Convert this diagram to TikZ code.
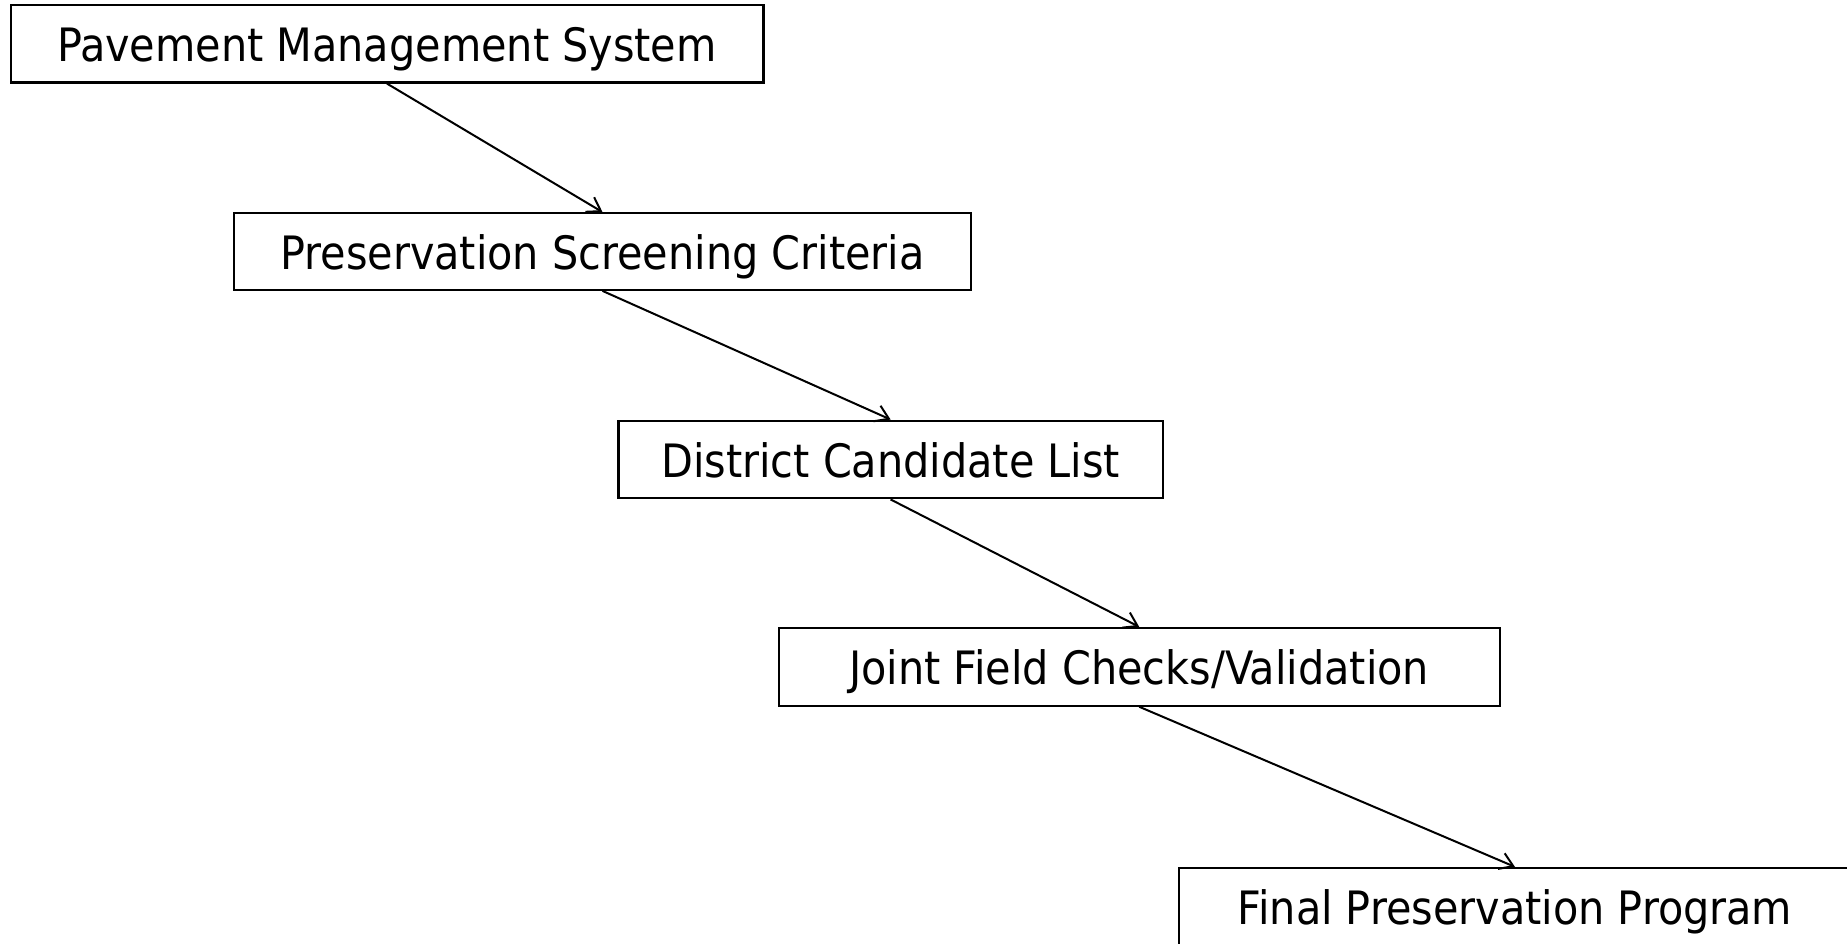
\documentclass[tikz,border=0pt]{standalone}
\usepackage{fontspec}
\setmainfont{DejaVu Sans Condensed}
\usetikzlibrary{arrows.meta}
\begin{document}
\begin{tikzpicture}[x=1pt,y=-1pt,
  box/.style={draw=black, line width=2.2pt, fill=white, inner sep=0pt,
    text height=36pt, text depth=0pt,
    font=\fontsize{46}{52}\selectfont, text=black},
  link/.style={line width=2pt, -{Straight Barb[length=13pt,width=17pt,line width=2pt]}}]
\clip (0,0) rectangle (1847,944);
\fill[white] (0,0) rectangle (1847,944);
\node[box, minimum width=752.8pt, minimum height=77.8pt] (b1) at (387,43.6) {Pavement Management System};
\node[box, minimum width=736.3pt, minimum height=76.6pt] (b2) at (602.5,251.5) {Preservation Screening Criteria};
\node[box, minimum width=544.2pt, minimum height=77.7pt] (b3) at (890.6,459.5) {District Candidate List};
\node[box, minimum width=720.9pt, minimum height=77.7pt] (b4) at (1139.2,666.8) {Joint Field Checks/Validation};
\node[box, minimum width=672pt, minimum height=77pt] (b5) at (1515,906.5) {Final Preservation Program};
\draw[link] (b1.south) -- (b2.north);
\draw[link] (b2.south) -- (b3.north);
\draw[link] (b3.south) -- (b4.north);
\draw[link] (b4.south) -- (b5.north);
\end{tikzpicture}
\end{document}
